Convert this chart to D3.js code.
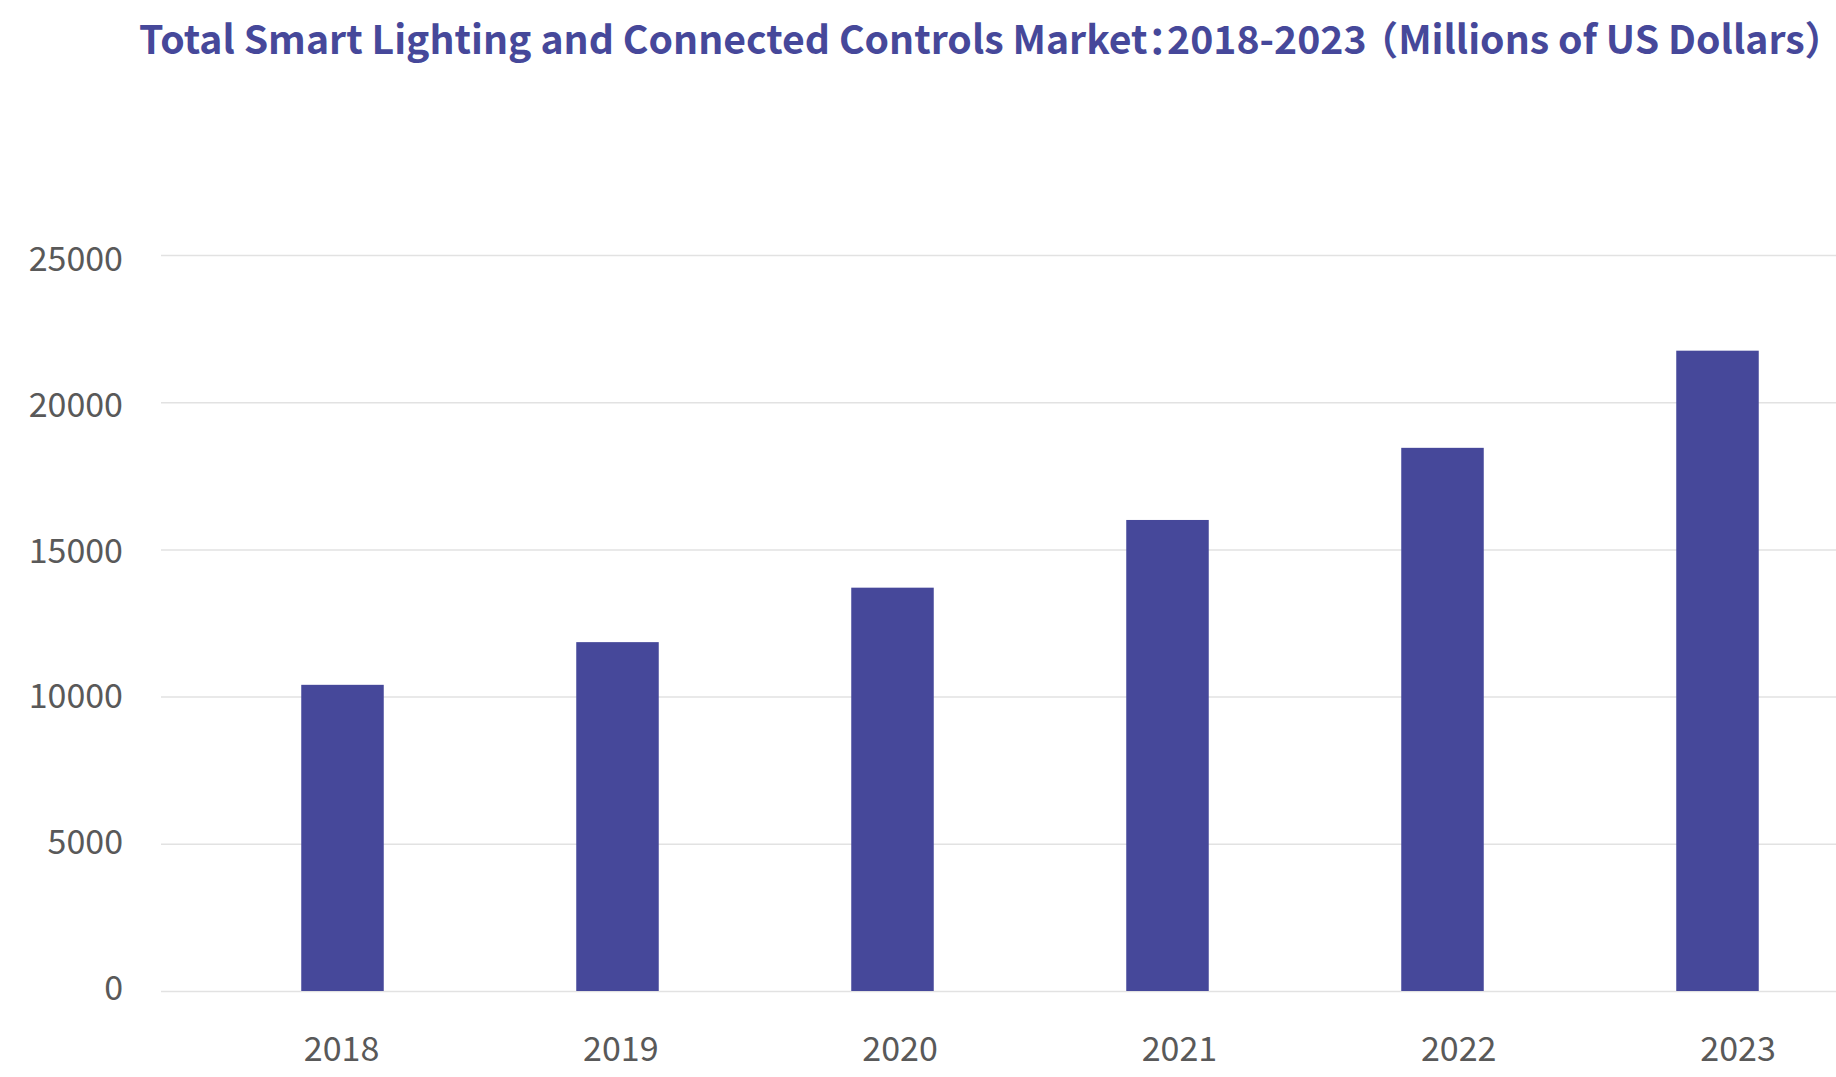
<!DOCTYPE html>
<html>
<head>
<meta charset="utf-8">
<script src="https://cdn.jsdelivr.net/npm/d3@7"></script>
<style>
  html, body { margin: 0; padding: 0; background: #ffffff; }
  svg { display: block; }
  text { font-family: "Noto Sans CJK SC", "Source Sans Pro", "Noto Sans", sans-serif; }
  .title { font-feature-settings: "halt" 1; }
</style>
</head>
<body>
<svg id="chart" width="1836" height="1077"></svg>
<script>
const titleMain = "Total Smart Lighting and Connected Controls Market：2018-2023";
const titleUnit = "（Millions of US Dollars）";
const categories = ["2018", "2019", "2020", "2021", "2022", "2023"];
const values = [10400, 11850, 13700, 16000, 18450, 21750];
const yTicks = [0, 5000, 10000, 15000, 20000, 25000];

const W = 1836, H = 1077;
const svg = d3.select("#chart");

const x = d3.scaleBand().domain(categories).range([205, 1855]).paddingInner(0.7).paddingOuter(0.35);
const xLabel = d3.scalePoint().domain(categories).range([341, 1737.5]);
const y = d3.scaleLinear().domain([0, 25000]).range([991, 255]);
const yLabel = d3.scaleLinear().domain([0, 25000]).range([987.5, 258.8]);

// gridlines
const grid = d3.axisLeft(y).tickValues(yTicks).tickSize(-(W - 161)).tickFormat("");
svg.append("g").attr("transform", "translate(161,0)").call(grid)
  .call(g => g.select(".domain").remove())
  .call(g => g.selectAll("line").attr("stroke", "#e2e2e2").attr("stroke-width", 1.5));

// y axis labels
const yAxis = d3.axisLeft(yLabel).tickValues(yTicks).tickSize(0).tickPadding(0).tickFormat(d3.format("d"));
svg.append("g").attr("transform", "translate(123,0)").call(yAxis)
  .call(g => g.select(".domain").remove())
  .call(g => g.selectAll("text").attr("font-size", 34).attr("fill", "#595959")
    .attr("font-family", "'Noto Sans CJK SC', sans-serif").attr("dy", "0.35em"));

// bars
svg.append("g").selectAll("rect").data(values).join("rect")
  .attr("x", (d, i) => x(categories[i]))
  .attr("width", x.bandwidth())
  .attr("y", d => y(d))
  .attr("height", d => y(0) - y(d))
  .attr("fill", "#46489a");

// x axis labels
const xAxis = d3.axisBottom(xLabel).tickSize(0).tickPadding(0);
svg.append("g").attr("transform", "translate(0,1049)").call(xAxis)
  .call(g => g.select(".domain").remove())
  .call(g => g.selectAll("text").attr("font-size", 34).attr("fill", "#595959")
    .attr("font-family", "'Noto Sans CJK SC', sans-serif").attr("dy", "0.35em"));

// title
const t = svg.append("text").attr("class", "title").attr("x", 139).attr("y", 54)
  .attr("font-size", 39.2).attr("font-weight", "bold").attr("fill", "#46489a");
t.append("tspan").text(titleMain);
t.append("tspan").attr("dx", 12).text(titleUnit);
</script>
</body>
</html>
